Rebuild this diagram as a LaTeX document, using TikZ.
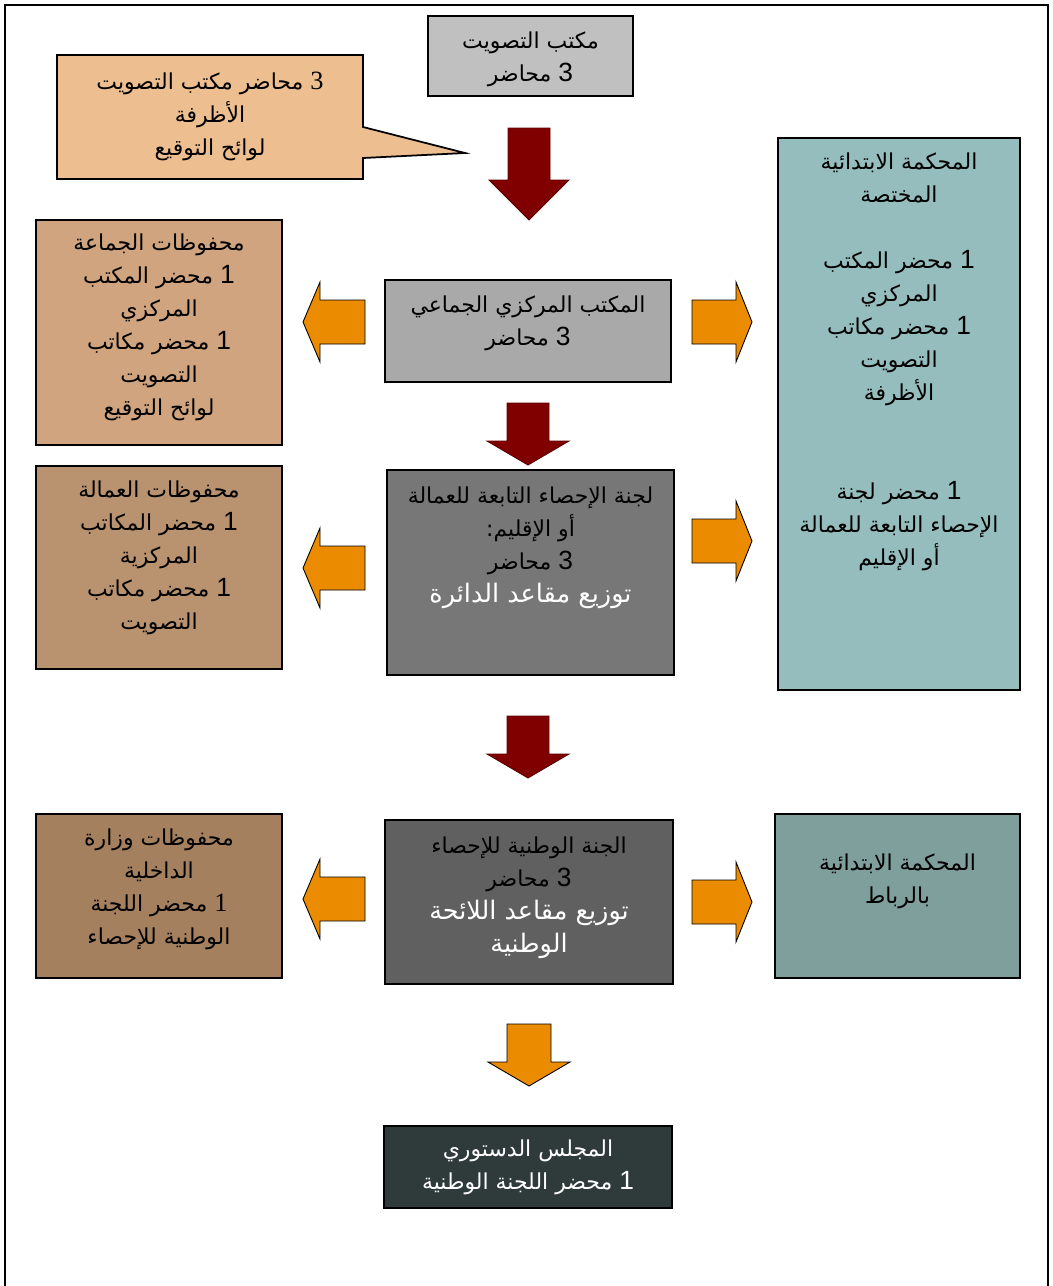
\documentclass[tikz,border=0pt]{standalone}
\usepackage{fontspec}
\newfontfamily\arabicfont[Script=Arabic]{DejaVu Sans}
\newfontfamily\latinserif{Liberation Serif}
\newfontfamily\latinsans{Liberation Sans}
\TeXXeTstate=1
\usetikzlibrary{positioning}
\definecolor{votegray}{HTML}{C0C0C0}
\definecolor{peach}{HTML}{EDBE8F}
\definecolor{tanA}{HTML}{CFA47E}
\definecolor{tanB}{HTML}{B9926F}
\definecolor{tanC}{HTML}{A4805F}
\definecolor{grayA}{HTML}{A9A9A9}
\definecolor{grayB}{HTML}{777777}
\definecolor{grayC}{HTML}{606060}
\definecolor{tealA}{HTML}{96BDBD}
\definecolor{tealB}{HTML}{7F9F9C}
\definecolor{slate}{HTML}{2F3B3A}
\definecolor{maroon}{HTML}{800000}
\definecolor{amber}{HTML}{EA8B00}

\newcommand{\rl}[1]{\beginR #1\endR}
\newcommand{\bigline}[1]{{\fontsize{14.5}{19}\selectfont\color{white}\beginR #1\endR}}
\newcommand{\dg}[1]{{\latinsans\fontsize{15}{18.8}\selectfont #1}}
\newcommand{\sdg}[1]{{\latinserif\fontsize{15}{18.8}\selectfont #1}}

\begin{document}
\begin{tikzpicture}[x=0.02cm, y=-0.02cm,
  boxbase/.style={draw, line width=1pt, inner sep=0pt},
  txt/.style={align=center, inner sep=0pt, font=\arabicfont\fontsize{12.5}{18.8}\selectfont},
  redarrow/.style={fill=maroon, draw=maroon!70!black, line width=0.5pt},
  orarrow/.style={fill=amber, draw=black, line width=0.5pt}]
  \useasboundingbox (0,0) rectangle (1053,1286);
  % page frame
  \draw[line width=1pt] (5,1286) -- (5,5) -- (1048,5) -- (1048,1286);

  % top: voting office + callout
  \node[boxbase, fill=votegray, minimum width=4.1cm, minimum height=1.6cm] (vote) at (530.5,56) {};
  \node[txt] (votet) at ([yshift=-0.06cm]vote.center) {\rl{مكتب التصويت}\\ \rl{\dg{3} محاضر}};
  \draw[line width=1pt, fill=peach] (57,55) -- (363,55) -- (363,127) -- (465,153)
     -- (363,158) -- (363,179) -- (57,179) -- cycle;
  \node[txt] (callout) at (210,116) {\rl{\sdg{3} محاضر مكتب التصويت}\\ \rl{الأظرفة}\\ \rl{لوائح التوقيع}};

  % row 1
  \node[boxbase, fill=tanA, minimum width=4.92cm, minimum height=4.5cm] (commune) at (159,332.5) {};
  \node[txt] (communet) at ([yshift=0.1cm]commune.center)
    {\rl{محفوظات الجماعة}\\ \rl{\dg{1} محضر المكتب}\\ \rl{المركزي}\\ \rl{\dg{1} محضر مكاتب}\\ \rl{التصويت}\\ \rl{لوائح التوقيع}};
  \node[boxbase, fill=grayA, minimum width=5.72cm, minimum height=2.04cm] (central) at (528,331) {};
  \node[txt] (centralt) at ([yshift=0.16cm]central.center) {\rl{المكتب المركزي الجماعي}\\ \rl{\dg{3} محاضر}};
  \node[boxbase, fill=tealA, minimum width=4.84cm, minimum height=11.04cm] (court) at (899,414) {};
  \node[txt] (courtt) at ([yshift=1.04cm]court.center)
    {\rl{المحكمة الابتدائية}\\ \rl{المختصة}\\ \mbox{}\\ \rl{\dg{1} محضر المكتب}\\ \rl{المركزي}\\ \rl{\dg{1} محضر مكاتب}\\ \rl{التصويت}\\ \rl{الأظرفة}\\ \mbox{}\\ \mbox{}\\
     \rl{\dg{1} محضر لجنة}\\ \rl{الإحصاء التابعة للعمالة}\\ \rl{أو الإقليم}};

  % row 2
  \node[boxbase, fill=tanB, minimum width=4.92cm, minimum height=4.06cm] (prov) at (159,567.5) {};
  \node[txt] (provt) at ([yshift=0.2cm]prov.center)
    {\rl{محفوظات العمالة}\\ \rl{\dg{1} محضر المكاتب}\\ \rl{المركزية}\\ \rl{\dg{1} محضر مكاتب}\\ \rl{التصويت}};
  \node[boxbase, fill=grayB, minimum width=5.74cm, minimum height=4.1cm] (census) at (530.5,572.5) {};
  \node[txt] (censust) at ([yshift=0.5cm]census.center)
    {\rl{لجنة الإحصاء التابعة للعمالة}\\ \rl{أو الإقليم:}\\ \rl{\dg{3} محاضر}\\ \bigline{توزيع مقاعد الدائرة}};

  % row 3
  \node[boxbase, fill=tanC, minimum width=4.92cm, minimum height=3.28cm] (interior) at (159,896) {};
  \node[txt] (interiort) at ([yshift=0.14cm]interior.center)
    {\rl{محفوظات وزارة}\\ \rl{الداخلية}\\ \rl{\sdg{1} محضر اللجنة}\\ \rl{الوطنية للإحصاء}};
  \node[boxbase, fill=grayC, minimum width=5.76cm, minimum height=3.28cm] (national) at (529,902) {};
  \node[txt] (nationalt) at ([yshift=0.08cm]national.center)
    {\rl{الجنة الوطنية للإحصاء}\\ \rl{\dg{3} محاضر}\\ \bigline{توزيع مقاعد اللائحة}\\ \bigline{الوطنية}};
  \node[boxbase, fill=tealB, minimum width=4.9cm, minimum height=3.28cm] (rabat) at (897.5,896) {};
  \node[txt] (rabatt) at ([yshift=0.3cm]rabat.center) {\rl{المحكمة الابتدائية}\\ \rl{بالرباط}};

  % bottom
  \node[boxbase, fill=slate, minimum width=5.76cm, minimum height=1.64cm] (council) at (528,1167) {};
  \node[txt, text=white] (councilt) at (council.center) {\rl{المجلس الدستوري}\\ \rl{\dg{1} محضر اللجنة الوطنية}};

  % block arrows
  \draw[redarrow] (529,220) -- ++(-40,-40) -- ++(19,0) -- ++(0,-52) -- ++(42,0) -- ++(0,52) -- ++(19,0) -- cycle;
  \foreach \y in {465,778}
    \draw[redarrow] (528,\y) -- ++(-41,-24) -- ++(20,0) -- ++(0,-38) -- ++(42,0) -- ++(0,38) -- ++(20,0) -- cycle;
  \draw[orarrow] (529,1086) -- ++(-41,-24) -- ++(19,0) -- ++(0,-38) -- ++(44,0) -- ++(0,38) -- ++(19,0) -- cycle;
  \foreach \y in {322,568,899}
    \draw[orarrow] (303,\y) -- ++(17,-40) -- ++(0,18) -- ++(45,0) -- ++(0,44) -- ++(-45,0) -- ++(0,18) -- cycle;
  \foreach \y in {322,541,902}
    \draw[orarrow] (752,\y) -- ++(-16,-40) -- ++(0,18) -- ++(-44,0) -- ++(0,44) -- ++(44,0) -- ++(0,18) -- cycle;
\end{tikzpicture}
\end{document}
